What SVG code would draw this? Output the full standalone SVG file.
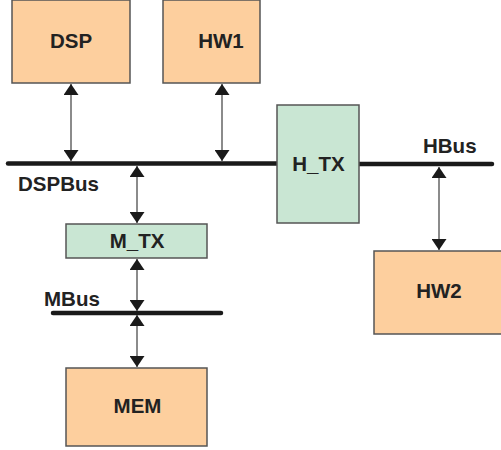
<svg xmlns="http://www.w3.org/2000/svg" width="501" height="450" viewBox="0 0 501 450">
  <style>
    .unit { fill: #FDCF9E; stroke: #555; stroke-width: 1.5; }
    .tx { fill: #C9E6D3; stroke: #555; stroke-width: 1.5; }
    .bus { stroke: #1a1a1a; stroke-width: 4.5; stroke-linecap: round; fill: none; }
    .link { stroke: #6e6e6e; stroke-width: 1.6; fill: none; marker-start: url(#head); marker-end: url(#head); }
    text { font-family: "Liberation Sans", Arial, sans-serif; font-weight: bold; font-size: 20.5px; fill: #222; }
    .c { text-anchor: middle; }
  </style>
  <defs>
    <!-- solid arrowhead used at both ends of each link -->
    <marker id="head" viewBox="0 0 11 15" refX="11" refY="7.5" markerWidth="11" markerHeight="15" markerUnits="userSpaceOnUse" orient="auto-start-reverse">
      <path d="M0,0 L11,7.5 L0,15 Z" fill="#1a1a1a"/>
    </marker>
  </defs>

  <!-- buses -->
  <g id="buses">
    <line class="bus" x1="8" y1="163.5" x2="278" y2="163.5"/>
    <line class="bus" x1="359" y1="164" x2="492" y2="164"/>
    <line class="bus" x1="53" y1="313" x2="221" y2="313"/>
    <text x="18" y="191">DSPBus</text>
    <text x="423" y="153">HBus</text>
    <text x="44" y="306">MBus</text>
  </g>

  <!-- connectors -->
  <g id="connectors">
    <line class="link" x1="71" y1="84" x2="71" y2="161"/>
    <line class="link" x1="222" y1="84" x2="222" y2="161"/>
    <line class="link" x1="137" y1="166" x2="137" y2="223"/>
    <line class="link" x1="137" y1="259" x2="137" y2="311"/>
    <line class="link" x1="137" y1="315" x2="137" y2="367"/>
    <line class="link" x1="439" y1="167" x2="439" y2="250"/>
  </g>

  <g id="DSP">
    <rect class="unit" x="12" y="0" width="118" height="83"/>
    <text class="c" x="71" y="48">DSP</text>
  </g>
  <g id="HW1">
    <rect class="unit" x="163" y="0" width="97" height="83"/>
    <text class="c" x="221" y="48">HW1</text>
  </g>
  <g id="H_TX">
    <rect class="tx" x="277" y="105" width="82" height="118"/>
    <text class="c" x="318.5" y="171">H_TX</text>
  </g>
  <g id="M_TX">
    <rect class="tx" x="66" y="224" width="141" height="34"/>
    <text class="c" x="137" y="247.5">M_TX</text>
  </g>
  <g id="HW2">
    <rect class="unit" x="374" y="251" width="128" height="83"/>
    <text class="c" x="439" y="298">HW2</text>
  </g>
  <g id="MEM">
    <rect class="unit" x="66" y="368" width="141" height="78"/>
    <text class="c" x="137.5" y="413">MEM</text>
  </g>
</svg>
